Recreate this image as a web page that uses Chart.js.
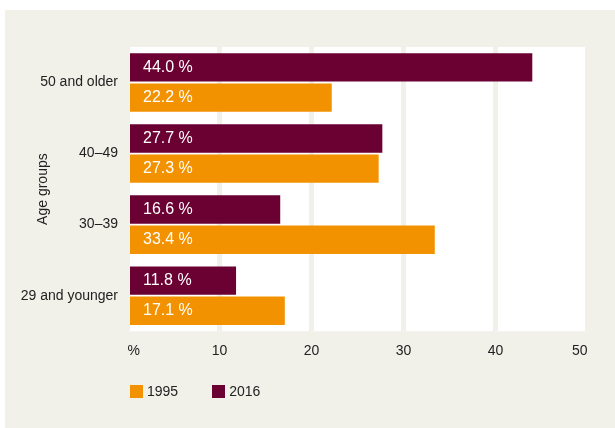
<!DOCTYPE html>
<html>
<head>
<meta charset="utf-8">
<script src="https://cdn.jsdelivr.net/npm/chart.js@4.4.0/dist/chart.umd.min.js"></script>
<style>
body { margin: 0; background: #fff; font-family: "Liberation Sans", Arial, sans-serif; }
#panel { position: absolute; left: 5px; top: 10px; width: 610px; height: 418px; background: #f2f1e9; }
#legend { position: absolute; left: 125px; top: 373px; display: flex; align-items: center; font-size: 14px; color: #222; }
#legend span.box { display: inline-block; width: 13px; height: 13px; margin-right: 4px; }
#legend span.item { display: flex; align-items: center; margin-right: 34px; }
</style>
</head>
<body>
<div id="panel">
  <canvas id="myChart" width="610" height="418"></canvas>
  <div id="legend"></div>
</div>
<script>
// chart data
var ageGroups = ["50 and older", "40\u201349", "30\u201339", "29 and younger"];
var values2016 = [44.0, 27.7, 16.6, 11.8];
var values1995 = [22.2, 27.3, 33.4, 17.1];
var xTicks = [0, 10, 20, 30, 40, 50];

var maroon = "#6b0033";
var orange = "#f39200";
var beige = "#f2f1e9";
var fontName = '"Liberation Sans", Arial, sans-serif';

// white plot area behind the grid
var plotBg = {
  id: 'plotBg',
  beforeDraw: function (chart) {
    var x = chart.scales.x, y = chart.scales.y;
    var x0 = x.getPixelForValue(x.min), x1 = x.getPixelForValue(x.max);
    chart.ctx.save();
    chart.ctx.fillStyle = '#fff';
    chart.ctx.fillRect(x0, y.top, x1 - x0, y.bottom - y.top);
    chart.ctx.restore();
  }
};

// value labels inside the bars
var barLabels = {
  id: 'barLabels',
  afterDatasetsDraw: function (chart) {
    var ctx = chart.ctx;
    ctx.save();
    ctx.font = '16px ' + fontName;
    ctx.fillStyle = '#fff';
    ctx.textBaseline = 'middle';
    chart.data.datasets.forEach(function (ds, i) {
      chart.getDatasetMeta(i).data.forEach(function (bar, j) {
        ctx.fillText(ds.data[j].toFixed(1) + ' %', bar.base + 13, bar.y);
      });
    });
    ctx.restore();
  }
};

new Chart("myChart", {
  type: "bar",
  data: {
    labels: ageGroups,
    datasets: [
      { label: "2016", data: values2016, backgroundColor: maroon, borderWidth: 0 },
      { label: "1995", data: values1995, backgroundColor: orange, borderWidth: 0 }
    ]
  },
  options: {
    indexAxis: 'y',
    responsive: false,
    animation: false,
    categoryPercentage: 0.85,
    barPercentage: 0.94,
    layout: { padding: { top: 37, right: 27.5, bottom: 56, left: 0 } },
    plugins: {
      legend: { display: false },
      tooltip: { enabled: false }
    },
    scales: {
      x: {
        min: xTicks[0],
        max: xTicks[xTicks.length - 1],
        afterBuildTicks: function (scale) {
          scale.ticks = xTicks.map(function (v) { return { value: v }; });
        },
        border: { display: false },
        grid: { color: beige, lineWidth: 5, drawTicks: false },
        ticks: {
          padding: 12,
          align: 'inner',
          color: '#222',
          font: { family: fontName, size: 14 },
          callback: function (v) { return v === 0 ? '%' : v; }
        }
      },
      y: {
        afterFit: function (scale) { scale.width = 122.5; },
        border: { display: false },
        grid: { display: false, drawTicks: false },
        ticks: { padding: 9.5, color: '#222', font: { family: fontName, size: 14 } },
        title: {
          display: true,
          text: 'Age groups',
          color: '#222',
          font: { family: fontName, size: 14 },
          padding: { top: 30, bottom: 0 }
        }
      }
    }
  },
  plugins: [plotBg, barLabels]
});

// legend, 1995 first
var legendItems = [["1995", orange], ["2016", maroon]];
document.getElementById('legend').innerHTML = legendItems.map(function (it) {
  return '<span class="item"><span class="box" style="background:' + it[1] + '"></span>' + it[0] + '</span>';
}).join('');
</script>
</body>
</html>
